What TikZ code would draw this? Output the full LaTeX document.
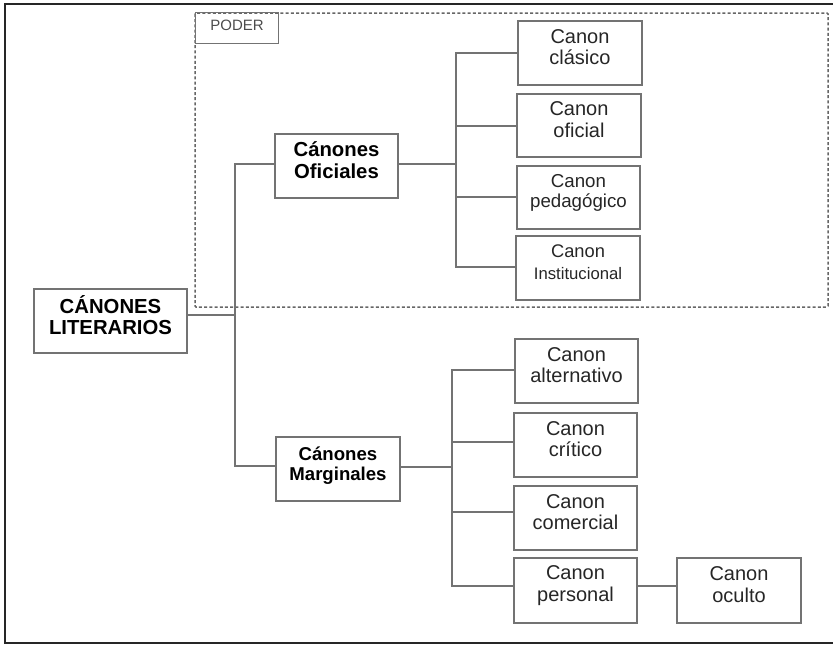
\documentclass[tikz,border=0pt]{standalone}
\usepackage{fontspec}
\setmainfont{Liberation Sans}
\begin{document}
\begin{tikzpicture}[x=1pt,y=-1pt,
  conn/.style={draw=black!55, line width=1.3pt},
  bx/.style={draw=black!55, line width=1.3pt, inner sep=0pt, align=center, text=black!85, text depth=12pt},
  canon/.style={bx, font=\fontsize{20}{21.5}\selectfont},
  boldbox/.style={bx, font=\bfseries\fontsize{20.3}{21.5}\selectfont, text=black}]
\useasboundingbox (0,0) rectangle (833,645);
\draw[line width=1.8pt, black!85] (5,4) rectangle (845,643);
% dashed PODER region
\draw[dash pattern=on 3pt off 2.2pt, line width=1.5pt, black!60, rounded corners=1pt] (195,13) rectangle (828,307);
\node[draw=black!55, line width=1.3pt, inner sep=0pt, minimum width=83pt, minimum height=31pt, font=\fontsize{15}{16}\selectfont, text=black!70, text depth=6pt, anchor=north west] (poder) at (195,12) {PODER};
% main nodes
\node[boldbox, minimum width=153pt, minimum height=64pt] (lit) at (110.5,321) {CÁNONES\\LITERARIOS};
\node[boldbox, minimum width=123pt, minimum height=64pt] (ofi) at (336.5,166) {Cánones\\Oficiales};
\node[boldbox, minimum width=124pt, minimum height=64pt, font=\bfseries\fontsize{18.6}{20}\selectfont, text depth=10pt] (mar) at (338,469) {Cánones\\Marginales};
% oficiales children
\node[canon, minimum width=124pt, minimum height=64pt] (c1) at (580,53) {Canon\\clásico};
\node[canon, minimum width=124pt, minimum height=63pt] (c2) at (579,125.5) {Canon\\oficial};
\node[canon, minimum width=123pt, minimum height=63pt, font=\fontsize{18.7}{20}\selectfont, text depth=14pt] (c3) at (578.5,197.5) {Canon\\pedagógico};
\node[canon, minimum width=124pt, minimum height=64pt, font=\fontsize{18.3}{22}\selectfont] (c4) at (578,268) {Canon\\{\fontsize{16.7}{18}\selectfont Institucional}};
% marginales children
\node[canon, minimum width=123pt, minimum height=64pt] (m1) at (576.5,371) {Canon\\alternativo};
\node[canon, minimum width=123pt, minimum height=64pt] (m2) at (575.5,445) {Canon\\crítico};
\node[canon, minimum width=123pt, minimum height=64pt] (m3) at (575.5,518) {Canon\\comercial};
\node[canon, minimum width=123pt, minimum height=65pt, text depth=14pt] (m4) at (575.5,590.5) {Canon\\personal};
\node[canon, minimum width=124pt, minimum height=65pt] (m5) at (739,590.5) {Canon\\oculto};
% connectors
\coordinate (t1) at (235,0);
\draw[conn] (lit.east |- 0,315) -- (t1 |- 0,315);
\draw[conn] (ofi.west |- 0,164) -| (235,164) |- (mar.west |- 0,466);
\coordinate (t2) at (456,0);
\draw[conn] (ofi.east |- 0,164) -- (t2 |- 0,164);
\draw[conn] (c1.west |- 0,53) -| (t2 |- 0,267) -- (c4.west |- 0,267);
\draw[conn] (t2 |- 0,126) -- (c2.west |- 0,126);
\draw[conn] (t2 |- 0,197) -- (c3.west |- 0,197);
\coordinate (t3) at (452,0);
\draw[conn] (mar.east |- 0,467) -- (t3 |- 0,467);
\draw[conn] (m1.west |- 0,370) -| (t3 |- 0,586) -- (m4.west |- 0,586);
\draw[conn] (t3 |- 0,442) -- (m2.west |- 0,442);
\draw[conn] (t3 |- 0,512) -- (m3.west |- 0,512);
\draw[conn] (m4.east |- 0,586) -- (m5.west |- 0,586);
\end{tikzpicture}
\end{document}
